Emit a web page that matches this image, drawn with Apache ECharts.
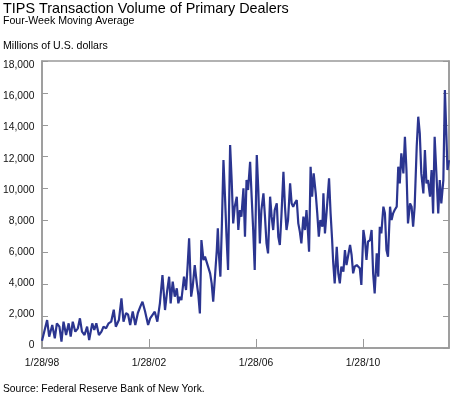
<!DOCTYPE html>
<html>
<head>
<meta charset="utf-8">
<script src="https://cdn.jsdelivr.net/npm/echarts@6/dist/echarts.min.js"></script>
<style>
  html, body { margin: 0; padding: 0; background: #fff; }
  #chart { width: 450px; height: 396px; }
</style>
</head>
<body>
<div id="chart"></div>
<script>
// weeks after 1/28/98 for each reading, and the 4-week average (millions of $)
var weekOffsets = [
  0, 3, 10, 14, 20, 25, 29, 34, 38, 42, 47, 52, 56, 60, 65, 70, 74, 78, 83, 88,
  92, 98, 102, 106, 111, 116, 120, 125, 130, 135, 140, 144, 150, 155, 159, 164, 168, 172, 177, 182,
  187, 192, 196, 201, 207, 211,
  220, 225, 230, 235, 240, 244, 248, 251, 255, 259, 263, 266, 269, 272, 277, 281, 284, 287, 291, 294,
  298, 302, 305, 308, 311, 315, 318, 321, 324, 328, 331, 334, 337, 341, 343, 345, 348, 351, 354, 357,
  360, 363, 367, 370, 373, 376, 380, 383, 386, 389, 393, 396, 399, 402, 406, 409, 412, 415, 419, 422,
  425, 428, 432, 435, 438, 441, 445, 448, 451, 454, 458, 461, 464, 467, 471, 474, 477, 480, 484, 487,
  490, 493, 497, 500,
  503, 506, 510, 513, 516, 519, 521, 524, 527, 530, 534, 537, 540, 543, 547, 549, 552, 555, 560, 563,
  566, 568, 571, 575, 578, 581, 584, 588, 591, 594, 597, 601, 604, 607, 610, 614, 617, 620, 623, 627,
  630, 633, 636, 640, 643, 646, 649, 653, 656, 659, 662, 666, 669, 672, 675, 679, 682, 685, 688, 692,
  695, 698, 701, 705, 708, 711, 714, 718, 721, 724, 727, 731, 734, 737, 740, 744, 747, 750, 753, 757,
  760, 763, 766, 770, 773, 776, 779, 783, 786, 789, 791, 794
];
var volumes = [
  450, 500, 1755, 710, 1440, 606, 1546, 1338, 397, 1651, 815, 1546, 710, 1651, 1024, 1233, 1860, 1024, 815, 1338,
  500, 1546, 1130, 1546, 815, 1024, 1338, 1233, 1546, 1651, 2403, 1338, 1755, 3114, 1651, 2195, 2090, 1440, 2300, 1440,
  2195, 2613, 2905, 2300, 1440, 1860,
  2278, 1651, 2801, 4577, 2383, 3532, 4472, 2801, 4159, 3219, 3741, 2801, 3219, 3010, 4472, 3637, 5100, 6876, 3219, 3846,
  5204, 4054, 3323, 2173, 6771, 5518, 5727, 5413, 5100, 4681, 4054, 2905, 4264, 6145, 7503, 5935, 4472, 7817, 11788, 9489,
  6981, 4891, 12728, 10534, 7817, 8862, 9489, 7399, 8653, 8235, 10011, 6981, 10534, 9907, 11683, 9489, 7399, 4891, 12101, 9907,
  6562, 8653, 9698, 8235, 6562, 5935, 9489, 8235, 7399, 8653, 9071, 6981, 6458, 8235, 11056, 8862, 7399, 8026, 10325, 9071,
  8862, 9071, 9280, 7817,
  7300, 6562, 8235, 7399, 8653, 7190, 6040, 11370, 9489, 10952, 9698, 8444, 6981, 8026, 7608, 9698, 7190, 8444, 10638, 8444,
  6771, 5413, 4054, 6353, 4681, 4054, 5100, 4786, 6145, 5204, 5100, 6458, 5831, 4681, 5100, 5204, 5204, 4995, 3950, 7399,
  6771, 5518, 6666, 6771, 7399, 4681, 3428, 5935, 4472, 7608, 7190, 8862, 8444, 6145, 5727, 8862, 8026, 8444, 8653, 8862,
  11370, 10325, 12205, 10952, 13251, 11162, 7817, 9071, 8862, 7608, 8862, 12623, 14505, 13460, 10952, 9698, 12415, 10325, 10534, 9489,
  11162, 8444, 13251, 10534, 8444, 10534, 9071, 10534, 16176, 13251, 11162, 11788
];
var xTickLabels = ["1/28/98", "1/28/02", "1/28/06", "1/28/10"];
var yMin = 0, yMax = 18000, yStep = 2000;

var DAY = 86400000;
var START = Date.UTC(1998, 0, 28);
var FOUR_YEARS = 1461 * DAY;
var END = START + 794 * 7 * DAY;
var FONT = "Liberation Sans, Arial, sans-serif";
var FRAME = "#999";

var seriesData = weekOffsets.map(function (w, i) {
  return [START + w * 7 * DAY, volumes[i]];
});

var myChart = echarts.init(document.getElementById("chart"));
myChart.setOption({
  animation: false,
  backgroundColor: "#fff",
  textStyle: { fontFamily: FONT },
  graphic: [
    { type: "text", x: 3, y: 9, style: { text: "TIPS Transaction Volume of Primary Dealers", fontSize: 14.4, fontFamily: FONT, fill: "#000", verticalAlign: "middle" } },
    { type: "text", x: 3, y: 21.5, style: { text: "Four-Week Moving Average", fontSize: 10.6, fontFamily: FONT, fill: "#000", verticalAlign: "middle" } },
    { type: "text", x: 3, y: 46.5, style: { text: "Millions of U.S. dollars", fontSize: 10.6, fontFamily: FONT, fill: "#000", verticalAlign: "middle" } },
    { type: "text", x: 3, y: 389, style: { text: "Source: Federal Reserve Bank of New York.", fontSize: 10.3, fontFamily: FONT, fill: "#000", verticalAlign: "middle" } }
  ],
  grid: [
    { left: 42, right: 1, top: 61, bottom: 48, show: true, borderColor: FRAME, borderWidth: 1.5 },
    // label-only grid: the printed tick labels sit a little tighter than the ticks
    { left: 42, right: 1, top: 65.5, bottom: 51, show: false }
  ],
  xAxis: [
    {
      type: "value",
      gridIndex: 0,
      min: START,
      max: END,
      interval: FOUR_YEARS,
      axisLine: { lineStyle: { color: FRAME, width: 1.5 } },
      axisTick: { inside: true, length: 9, lineStyle: { color: FRAME } },
      splitLine: { show: false },
      axisLabel: {
        color: "#111", fontSize: 10.3, fontFamily: FONT, margin: 10,
        showMaxLabel: false,
        formatter: function (v) {
          var k = Math.round((v - START) / FOUR_YEARS);
          if (Math.abs(v - START - k * FOUR_YEARS) > DAY) return "";
          return xTickLabels[k] || "";
        }
      }
    },
    { type: "value", gridIndex: 1, min: START, max: END, show: false }
  ],
  yAxis: [
    {
      type: "value", gridIndex: 0, min: yMin, max: yMax, interval: yStep,
      axisLine: { show: true, lineStyle: { color: FRAME, width: 1.5 } },
      axisTick: { show: true, inside: true, length: 6, lineStyle: { color: FRAME } },
      splitLine: { show: false },
      axisLabel: { show: false }
    },
    {
      type: "value", gridIndex: 0, min: yMin, max: yMax, interval: yStep, position: "right",
      axisLine: { show: true, lineStyle: { color: FRAME, width: 1.5 } },
      axisTick: { show: true, inside: true, length: 6, lineStyle: { color: FRAME } },
      splitLine: { show: false },
      axisLabel: { show: false }
    },
    {
      type: "value", gridIndex: 1, min: yMin, max: yMax, interval: yStep,
      axisLine: { show: false },
      axisTick: { show: false },
      splitLine: { show: false },
      axisLabel: {
        color: "#111", fontSize: 10.3, fontFamily: FONT, margin: 9,
        formatter: function (v) { return v.toLocaleString("en-US"); }
      }
    }
  ],
  series: [
    {
      name: "TIPS volume",
      type: "line",
      xAxisIndex: 0,
      yAxisIndex: 0,
      data: seriesData,
      showSymbol: false,
      symbol: "none",
      lineStyle: { color: "#2b3590", width: 2.2 }
    }
  ]
});
</script>
</body>
</html>
